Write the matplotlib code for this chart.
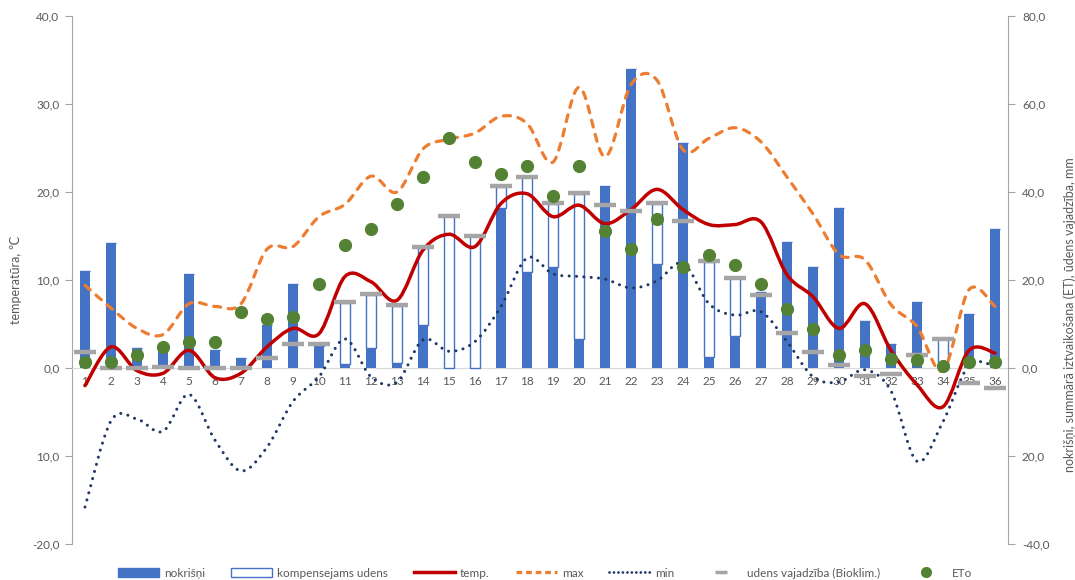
# -*- coding: utf-8 -*-
import matplotlib
matplotlib.use('Agg')
from matplotlib import pyplot as plt
from matplotlib.path import Path
from matplotlib.patches import PathPatch, Patch
from matplotlib.lines import Line2D

weeks = list(range(1, 37))

# mm (right axis)
nokrisni = [22.1, 28.5, 4.5, 4.5, 21.3, 4.1, 2.3, 9.7, 19.1, 5.0, 0.8, 4.6,
            1.2, 9.7, 0.0, 0.0, 36.3, 21.9, 23.0, 6.7, 41.4, 68.0, 23.6, 51.2,
            2.6, 7.3, 17.3, 28.7, 22.9, 36.3, 10.6, 5.4, 14.9, 0.0, 12.2, 31.6]
kompensejams = [0, 0, 0, 0, 0, 0, 0, 0, 0, 0.4, 14.0, 12.0,
                13.0, 17.5, 34.5, 30.0, 4.9, 21.4, 14.3, 32.8, 0, 0, 13.7, 0,
                21.6, 13.1, 0, 0, 0, 0, 0, 0, 0, 6.5, 0, 0]
vajadziba = [3.7, 0.0, 0.0, 0.3, 0.0, 0.0, 0.0, 2.3, 5.4, 5.4, 14.9, 16.8,
             14.4, 27.4, 34.6, 30.1, 41.4, 43.5, 37.5, 39.7, 37.0, 35.6, 37.5, 33.3,
             24.3, 20.5, 16.7, 8.0, 3.6, 0.7, -1.8, -1.3, 3.0, 6.5, -3.4, -4.5]
eto = [1.4, 1.4, 3.0, 4.8, 5.8, 5.8, 12.7, 11.1, 11.7, 19.2, 27.9, 31.7,
       37.2, 43.3, 52.2, 46.9, 44.0, 45.9, 39.2, 45.8, 31.2, 27.0, 33.8, 22.9,
       25.7, 23.3, 19.0, 13.3, 8.9, 3.0, 4.1, 2.0, 1.8, 0.5, 1.3, 1.3]

# degC (left axis)
temp = [-2.0, 2.4, -0.3, -0.6, 2.0, -1.1, -0.6, 2.4, 4.5, 3.9, 10.4, 9.8,
        7.7, 13.4, 15.2, 13.8, 18.7, 19.8, 17.2, 18.5, 16.4, 18.0, 20.3, 18.0,
        16.3, 16.3, 16.6, 10.6, 8.1, 4.5, 7.3, 2.0, -1.9, -4.4, 2.0, 1.7]
tmax = [9.4, 6.8, 4.5, 3.8, 7.3, 7.0, 7.3, 13.5, 13.8, 17.2, 18.6, 21.8,
        20.0, 24.9, 26.0, 26.7, 28.6, 27.8, 23.4, 31.9, 24.0, 32.2, 32.7, 24.8,
        26.1, 27.3, 25.7, 21.7, 17.5, 12.9, 12.3, 7.2, 4.7, -0.3, 8.9, 7.0]
tmin = [-15.8, -6.0, -5.8, -7.2, -3.0, -8.2, -11.7, -9.0, -3.8, -1.0, 3.3, -1.0,
        -1.6, 3.2, 1.9, 3.0, 7.0, 12.5, 10.7, 10.4, 10.1, 9.1, 9.9, 11.9,
        7.3, 6.0, 6.4, 3.0, -1.0, -1.6, -0.2, -2.6, -10.6, -6.1, 0.3, 0.2]

left_ticks = [-20, -10, 0, 10, 20, 30, 40]
left_labels = ['-20,0', '10,0', '0,0', '10,0', '20,0', '30,0', '40,0']
right_ticks = [-40, -20, 0, 20, 40, 60, 80]
right_labels = ['-40,0', '20,0', '0,0', '20,0', '40,0', '60,0', '80,0']

BLUE = '#4472C4'
RED = '#C00000'
ORANGE = '#ED7D31'
NAVY = '#203864'
GRAY = '#A5A5A5'
GREEN = '#548235'
TXT = '#595959'

plt.rcParams['font.family'] = ['Lato', 'DejaVu Sans']


def smooth_path(x, y):
    # Bezier segments like a spreadsheet "smoothed line"
    verts = [(x[0], y[0])]
    codes = [Path.MOVETO]
    n = len(x)
    for i in range(n - 1):
        x0, y0 = (x[i - 1], y[i - 1]) if i > 0 else (x[i], y[i])
        x3, y3 = (x[i + 2], y[i + 2]) if i + 2 < n else (x[i + 1], y[i + 1])
        c1 = (x[i] + (x[i + 1] - x0) / 6.0, y[i] + (y[i + 1] - y0) / 6.0)
        c2 = (x[i + 1] - (x3 - x[i]) / 6.0, y[i + 1] - (y3 - y[i]) / 6.0)
        verts += [c1, c2, (x[i + 1], y[i + 1])]
        codes += [Path.CURVE4] * 3
    return Path(verts, codes)


fig = plt.figure(figsize=(10.75, 5.8), dpi=100)
ax = fig.add_axes([72 / 1075, 1 - 544 / 580, 936 / 1075, 528 / 580])
ax2 = ax.twinx()

ax.set_xlim(0.5, 36.5)
ax.set_ylim(-20, 40)
ax2.set_ylim(-40, 80)

# bars
ax2.bar(weeks, nokrisni, width=0.42, color=BLUE, zorder=1)
ax2.bar(weeks, kompensejams, width=0.42, bottom=nokrisni, facecolor='white',
        edgecolor=BLUE, linewidth=1.0, zorder=1)

# temperature lines (left scale, drawn above the bars)
styles = [
    (temp, dict(edgecolor=RED, linewidth=2.5, capstyle='round')),
    (tmax, dict(edgecolor=ORANGE, linewidth=2.3, linestyle=(0, (2.2, 2.4)), capstyle='round')),
    (tmin, dict(edgecolor=NAVY, linewidth=2.2, linestyle=(0, (0.01, 2.4)), capstyle='round')),
]
for vals, kw in styles:
    p = PathPatch(smooth_path(weeks, vals), facecolor='none', transform=ax.transData,
                  zorder=3, **kw)
    ax2.add_patch(p)

ax2.plot(weeks, vajadziba, linestyle='none', marker='_', markersize=16,
         markeredgewidth=3.2, color=GRAY, zorder=4)
ax2.plot(weeks, eto, linestyle='none', marker='o', markersize=8.5,
         color=GREEN, zorder=5)
ax2.set_ylim(-40, 80)

# axes styling
for a in (ax, ax2):
    a.spines['top'].set_visible(False)
    a.spines['left'].set_color(GRAY)
    a.spines['right'].set_color(GRAY)
ax2.spines['bottom'].set_visible(False)
ax.spines['right'].set_visible(False)
ax2.spines['left'].set_visible(False)
ax.spines['bottom'].set_position(('data', 0))
ax.spines['bottom'].set_color('#D9D9D9')

ax.set_xticks(weeks)
ax.set_xticklabels([str(w) for w in weeks])
ax.tick_params(axis='x', length=0, pad=6, labelsize=8.5, labelcolor=TXT)
ax.set_yticks(left_ticks)
ax.set_yticklabels(left_labels)
ax.tick_params(axis='y', length=5, color=GRAY, labelsize=8.5, labelcolor=TXT, pad=4)
ax2.set_yticks(right_ticks)
ax2.set_yticklabels(right_labels)
ax2.tick_params(axis='y', length=5, color=GRAY, labelsize=8.5, labelcolor=TXT, pad=5)

ax.set_ylabel('temperatūra, ℃', fontsize=9, color=TXT)
ax.yaxis.set_label_coords(-0.053, 0.5)
ax2.set_ylabel('nokrišņi, summārā iztvaikošana (ET), ūdens vajadzība, mm',
               fontsize=9, color=TXT)
ax2.yaxis.set_label_coords(1.059, 0.434)

handles = [
    Patch(facecolor=BLUE, edgecolor=BLUE),
    Patch(facecolor='white', edgecolor=BLUE),
    Line2D([], [], color=RED, linewidth=2.5),
    Line2D([], [], color=ORANGE, linewidth=2.3, linestyle=(0, (1.8, 1.2))),
    Line2D([], [], color=NAVY, linewidth=2.0, linestyle=(0, (0.01, 1.6)),
           dash_capstyle='round'),
    Line2D([], [], color=GRAY, linestyle='none', marker='_', markersize=8,
           markeredgewidth=2.5),
    Line2D([], [], color=GREEN, linestyle='none', marker='o', markersize=7),
]
labels = ['nokrišņi', 'kompensejams udens', 'temp.', 'max', 'min',
          'udens vajadzība (Bioklim.)', 'ETo']
fig.legend(handles, labels, loc='center', bbox_to_anchor=(0.507, 0.012), ncol=7,
           frameon=False, fontsize=8.5, labelcolor=TXT, handlelength=3.5,
           handleheight=0.9, columnspacing=2.2, handletextpad=0.4)

fig.savefig('out.png', dpi=100)
